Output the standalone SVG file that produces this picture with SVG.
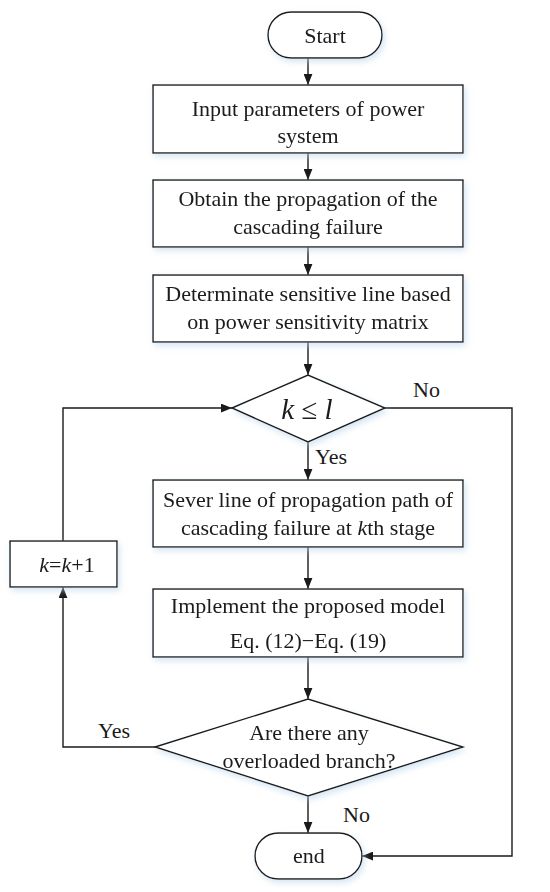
<svg xmlns="http://www.w3.org/2000/svg" width="550" height="892" viewBox="0 0 550 892">
<style>
.n{fill:#fff;stroke:#1a1a1a;stroke-width:1.4}
.t{font-family:"Liberation Serif","Times New Roman",serif;font-size:22px;fill:#1a1a1a;text-anchor:middle}
.l{font-family:"Liberation Serif","Times New Roman",serif;font-size:22px;fill:#1a1a1a}
.c{fill:none;stroke:#1a1a1a;stroke-width:1.4}
.s{filter:url(#g)}
</style>
<defs>
<marker id="a" viewBox="0 0 10 8" refX="10" refY="4" markerWidth="11" markerHeight="9" markerUnits="userSpaceOnUse" orient="auto">
<path d="M0,0L10,4L0,8Z" fill="#1a1a1a"/>
</marker>
<filter id="g" x="-10%" y="-20%" width="120%" height="140%">
<feGaussianBlur in="SourceAlpha" stdDeviation="3" result="b"/>
<feFlood flood-color="#b9d3ea" flood-opacity="0.6"/>
<feComposite in2="b" operator="in" result="sh"/>
<feOffset dx="2" dy="3"/>
<feMerge><feMergeNode/><feMergeNode in="SourceGraphic"/></feMerge>
</filter>
</defs>
<rect width="550" height="892" fill="#fff"/>
<g id="connectors">
<path class="c" d="M308,58V85" marker-end="url(#a)"/>
<path class="c" d="M308,153V180" marker-end="url(#a)"/>
<path class="c" d="M308,247V275" marker-end="url(#a)"/>
<path class="c" d="M308,342V375" marker-end="url(#a)"/>
<path class="c" d="M308,442V480" marker-end="url(#a)"/>
<path class="c" d="M308,547V589" marker-end="url(#a)"/>
<path class="c" d="M308,657V699" marker-end="url(#a)"/>
<path class="c" d="M308,796V833" marker-end="url(#a)"/>
<path class="c" d="M155,747H63V587" marker-end="url(#a)"/>
<path class="c" d="M63,541V408H232" marker-end="url(#a)"/>
<path class="c" d="M385,408H512V856H362" marker-end="url(#a)"/>
<text class="l" x="413" y="397">No</text>
<text class="l" x="315" y="464">Yes</text>
<text class="l" x="98" y="738">Yes</text>
<text class="l" x="343" y="822">No</text>
</g>
<g id="start" class="s">
<rect class="n" x="268" y="12" width="114" height="46" rx="23"/>
<text class="t" x="325" y="43">Start</text>
</g>
<g id="input" class="s">
<rect class="n" x="153" y="85" width="310" height="68"/>
<text class="t" x="308" y="116">Input parameters of power</text>
<text class="t" x="308" y="143">system</text>
</g>
<g id="obtain" class="s">
<rect class="n" x="153" y="180" width="310" height="67"/>
<text class="t" x="308" y="206">Obtain the propagation of the</text>
<text class="t" x="308" y="234">cascading failure</text>
</g>
<g id="determinate" class="s">
<rect class="n" x="153" y="275" width="310" height="67"/>
<text class="t" x="308" y="301">Determinate sensitive line based</text>
<text class="t" x="308" y="329">on power sensitivity matrix</text>
</g>
<g id="cond1" class="s">
<path class="n" d="M232,408L308,375L385,408L308,442Z"/>
<text class="t" x="307" y="419" style="font-size:29px;font-style:italic">k <tspan style="font-style:normal">≤</tspan> l</text>
</g>
<g id="sever" class="s">
<rect class="n" x="153" y="480" width="310" height="67"/>
<text class="t" x="308" y="507">Sever line of propagation path of</text>
<text class="t" x="308" y="535">cascading failure at <tspan font-style="italic">k</tspan>th stage</text>
</g>
<g id="increment" class="s">
<rect class="n" x="10" y="541" width="107" height="46"/>
<text class="t" x="67" y="572"><tspan font-style="italic">k</tspan>=<tspan font-style="italic">k</tspan>+1</text>
</g>
<g id="implement" class="s">
<rect class="n" x="153" y="589" width="310" height="68"/>
<text class="t" x="308" y="613">Implement  the proposed model</text>
<text class="t" x="308" y="648">Eq. (12)−Eq. (19)</text>
</g>
<g id="cond2" class="s">
<path class="n" d="M155,747L308,699L463,747L308,796Z"/>
<text class="t" x="309" y="740">Are there any</text>
<text class="t" x="309" y="768">overloaded branch?</text>
</g>
<g id="end" class="s">
<rect class="n" x="255" y="833" width="107" height="46" rx="23"/>
<text class="t" x="309" y="863">end</text>
</g>
</svg>
